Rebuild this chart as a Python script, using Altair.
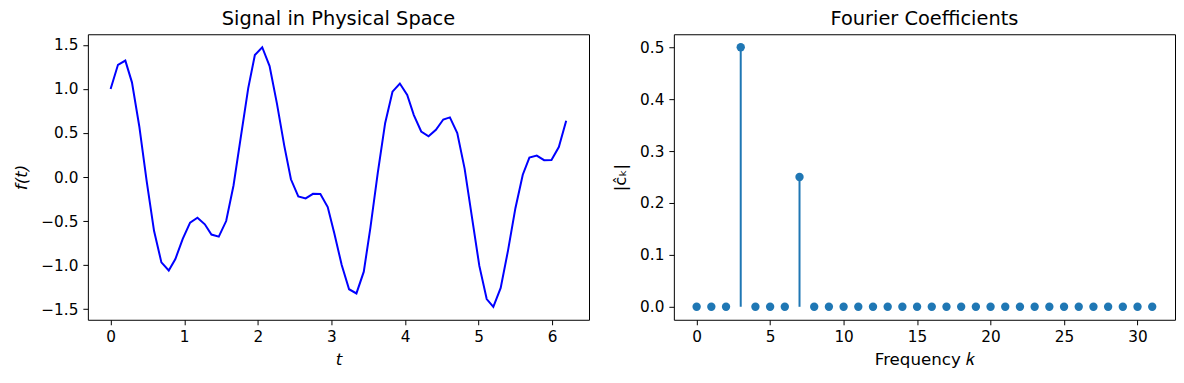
import altair as alt
import pandas as pd

# Left panel: sampled signal
t_vals = [0.00, 0.10, 0.20, 0.29, 0.39, 0.49, 0.59, 0.69, 0.79, 0.88,
          0.98, 1.08, 1.18, 1.28, 1.37, 1.47, 1.57, 1.67, 1.77, 1.87,
          1.96, 2.06, 2.16, 2.26, 2.36, 2.45, 2.55, 2.65, 2.75, 2.85,
          2.95, 3.04, 3.14, 3.24, 3.34, 3.44, 3.53, 3.63, 3.73, 3.83,
          3.93, 4.03, 4.12, 4.22, 4.32, 4.42, 4.52, 4.61, 4.71, 4.81,
          4.91, 5.01, 5.11, 5.20, 5.30, 5.40, 5.50, 5.60, 5.69, 5.79,
          5.89, 5.99, 6.09, 6.19]
f_vals = [1.000, 1.274, 1.322, 1.075, 0.574, -0.047, -0.611, -0.969, -1.061, -0.931,
          -0.703, -0.517, -0.462, -0.537, -0.653, -0.677, -0.500, -0.096, 0.458, 1.009,
          1.386, 1.474, 1.259, 0.833, 0.354, -0.026, -0.221, -0.243, -0.191, -0.193,
          -0.341, -0.640, -1.000, -1.274, -1.322, -1.075, -0.574, 0.047, 0.611, 0.969,
          1.061, 0.931, 0.703, 0.517, 0.462, 0.537, 0.653, 0.677, 0.500, 0.096,
          -0.458, -1.009, -1.386, -1.474, -1.259, -0.833, -0.354, 0.026, 0.221, 0.243,
          0.191, 0.193, 0.341, 0.640]

# Right panel: Fourier coefficient magnitudes
k_vals = list(range(32))
c_vals = [0.0, 0.0, 0.0, 0.5, 0.0, 0.0, 0.0, 0.25] + [0.0] * 24

left_x_ticks = [0, 1, 2, 3, 4, 5, 6]
left_y_ticks = [-1.5, -1.0, -0.5, 0.0, 0.5, 1.0, 1.5]
right_x_ticks = [0, 5, 10, 15, 20, 25, 30]
right_y_ticks = [0.0, 0.1, 0.2, 0.3, 0.4, 0.5]

sig = pd.DataFrame({"t": t_vals, "f": f_vals})
coef = pd.DataFrame({"k": k_vals, "c": c_vals, "base": [0.0] * len(k_vals)})

FONT = "DejaVu Sans"
W, H = 502, 286

left = alt.Chart(sig).mark_line(color="#0000ff", strokeWidth=2).encode(
    x=alt.X("t:Q",
            scale=alt.Scale(domain=[-0.309, 6.5], nice=False, zero=False),
            axis=alt.Axis(values=left_x_ticks, format="d", title="t",
                          titleFontStyle="italic", titlePadding=7)),
    y=alt.Y("f:Q",
            scale=alt.Scale(domain=[-1.621, 1.621], nice=False, zero=False),
            axis=alt.Axis(values=left_y_ticks, format=".1f", title="f(t)",
                          titleFontStyle="italic", titlePadding=10)),
).properties(width=W, height=H, title="Signal in Physical Space")

xr = alt.X("k:Q",
           scale=alt.Scale(domain=[-1.55, 32.55], nice=False, zero=False),
           axis=alt.Axis(values=right_x_ticks, format="d", title="Frequency 𝑘",
                         titlePadding=7))
yr = alt.Y("c:Q",
           scale=alt.Scale(domain=[-0.025, 0.525], nice=False, zero=False),
           axis=alt.Axis(values=right_y_ticks, format=".1f", title="|ĉₖ|",
                         titlePadding=10))

stems = alt.Chart(coef).mark_rule(color="#1f77b4", strokeWidth=2).encode(
    x=xr, y=yr, y2="base:Q")
dots = alt.Chart(coef).mark_circle(color="#1f77b4", size=70, opacity=1).encode(
    x=xr, y=yr)
right = alt.layer(stems, dots).properties(width=W, height=H,
                                          title="Fourier Coefficients")

chart = alt.hconcat(left, right, spacing=22).properties(
    padding={"left": 5, "top": 0, "right": 0, "bottom": 0}
).configure_view(stroke="black", strokeWidth=1).configure_axis(
    grid=False, domain=False, tickColor="black", tickSize=5, tickWidth=1,
    labelColor="black", labelFont=FONT, labelFontSize=15.3, labelPadding=5,
    titleColor="black", titleFont=FONT, titleFontSize=16.7, titleFontWeight="normal",
).configure_title(
    font=FONT, fontSize=19.4, fontWeight="normal", color="black", offset=5,
    anchor="middle"
)

chart.save("out.html", embed_options={"renderer": "svg", "actions": False})
